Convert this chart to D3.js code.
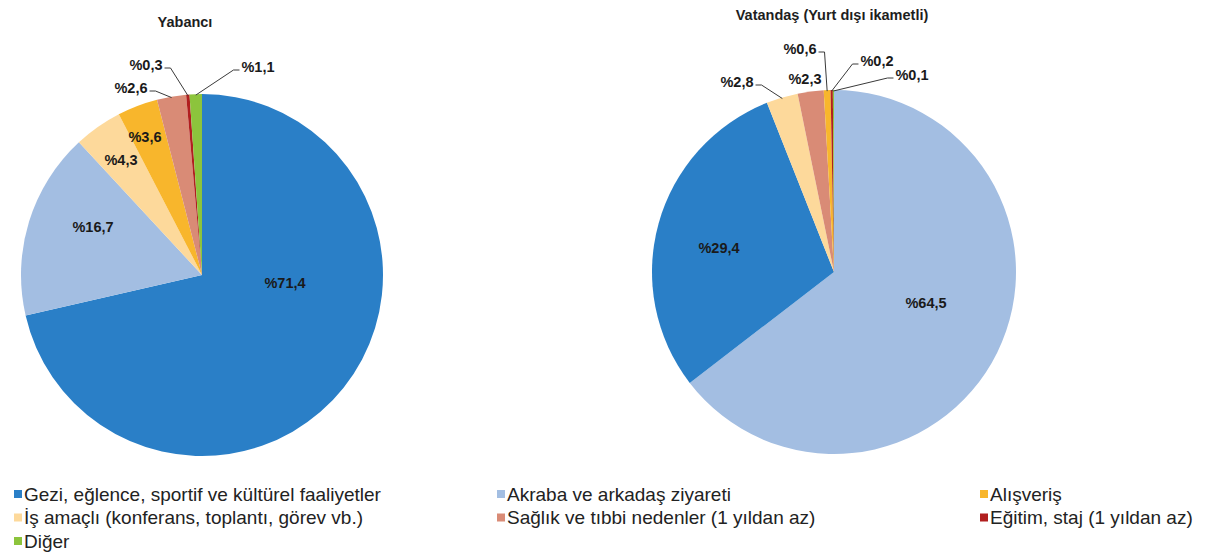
<!DOCTYPE html>
<html>
<head>
<meta charset="utf-8">
<script src="https://cdn.jsdelivr.net/npm/d3@7/dist/d3.min.js"></script>
<style>
  html, body { margin: 0; padding: 0; background: #ffffff; }
  svg { display: block; }
  text { font-family: "Liberation Sans", Arial, sans-serif; }
</style>
</head>
<body>
<svg id="chart" width="1207" height="552"></svg>
<script>
// ---- Data ----
const categories = [
  "Gezi, eğlence, sportif ve kültürel faaliyetler",
  "Akraba ve arkadaş ziyareti",
  "Alışveriş",
  "İş amaçlı (konferans, toplantı, görev vb.)",
  "Sağlık ve tıbbi nedenler (1 yıldan az)",
  "Eğitim, staj (1 yıldan az)",
  "Diğer"
];
const colors = ["#2a7fc7", "#a3bee2", "#f8b62c", "#fdd99b", "#d98b76", "#b11f1f", "#8cc43c"];
const yabanciValues  = [71.4, 16.7, 3.6, 4.3, 2.6, 0.3, 1.1];
const vatandasValues = [29.4, 64.5, 0.6, 2.8, 2.3, 0.2, 0.1];
// slice drawing order (clockwise from 12 o'clock), as category indices
const yabanciOrder  = [0, 1, 3, 2, 4, 5, 6];
const vatandasOrder = [1, 0, 3, 4, 2, 5, 6];
const titles = ["Yabancı", "Vatandaş (Yurt dışı ikametli)"];

// ---- Layout (positions kept separate from data) ----
const pies = [
  {
    title: titles[0], values: yabanciValues, order: yabanciOrder,
    cx: 202, cy: 275, r: 181, titleX: 185, titleY: 22,
    labels: { // offset from center, leader flag
      0: { dx: 83,   dy: 8,    leader: false },
      1: { dx: -109, dy: -48,  leader: false },
      3: { dx: -81,  dy: -115, leader: false },
      2: { dx: -57,  dy: -138, leader: false },
      4: { dx: -71,  dy: -187, leader: true },
      5: { dx: -56,  dy: -210, leader: true },
      6: { dx: 56,   dy: -208, leader: true }
    }
  },
  {
    title: titles[1], values: vatandasValues, order: vatandasOrder,
    cx: 834, cy: 272, r: 182, titleX: 832, titleY: 15,
    labels: {
      1: { dx: 92,  dy: 31,   leader: false },
      0: { dx: -115, dy: -24, leader: false },
      3: { dx: -97, dy: -190, leader: true },
      4: { dx: -29, dy: -193, leader: false },
      2: { dx: -34, dy: -223, leader: true },
      5: { dx: 43,  dy: -211, leader: true },
      6: { dx: 78,  dy: -197, leader: true }
    }
  }
];

const svg = d3.select("#chart");
const fmt = v => "%" + d3.format(".1f")(v).replace(".", ",");

pies.forEach(p => {
  const data = p.order.map(i => ({ idx: i, value: p.values[i] }));
  const pie = d3.pie().sort(null).value(d => d.value);
  const arcs = pie(data);
  const arc = d3.arc().innerRadius(0).outerRadius(p.r);

  svg.append("text")
    .attr("x", p.titleX).attr("y", p.titleY)
    .attr("text-anchor", "middle").attr("dy", "0.35em")
    .attr("font-size", "14.5px").attr("font-weight", "bold")
    .attr("fill", "#1e1e1e")
    .text(p.title);

  const g = svg.append("g").attr("transform", `translate(${p.cx},${p.cy})`);
  g.selectAll("path.slice").data(arcs).enter().append("path")
    .attr("class", "slice")
    .attr("d", arc)
    .attr("fill", d => colors[d.data.idx]);

  arcs.forEach(a => {
    const L = p.labels[a.data.idx];
    const t = g.append("text")
      .attr("x", L.dx).attr("y", L.dy)
      .attr("text-anchor", "middle").attr("dy", "0.35em")
      .attr("font-size", "14.5px").attr("font-weight", "bold")
      .attr("fill", "#1a1a1a")
      .text(fmt(a.data.value));
    if (L.leader) {
      const bb = t.node().getBBox();
      const mid = (a.startAngle + a.endAngle) / 2;
      const px = Math.sin(mid) * (p.r - 1), py = -Math.cos(mid) * (p.r - 1);
      const leftSide = L.dx < px;
      const sx = leftSide ? bb.x + bb.width + 2 : bb.x - 2;
      const sy = L.dy + 3;
      const hx = leftSide ? sx + 6 : sx - 6;
      g.append("path")
        .attr("d", d3.line()([[sx, sy], [hx, sy], [px, py]]))
        .attr("fill", "none").attr("stroke", "#3a3a3a").attr("stroke-width", 1);
    }
  });
});

// ---- Legend ----
const legendCols = [14, 497, 980];
const legendRows = [494, 517.5, 541];
const legend = svg.append("g");
categories.forEach((c, i) => {
  const x = legendCols[i % 3], y = legendRows[Math.floor(i / 3)];
  legend.append("rect").attr("x", x).attr("y", y - 4).attr("width", 8).attr("height", 8)
    .attr("fill", colors[i]);
  legend.append("text").attr("x", x + 10).attr("y", y).attr("dy", "0.35em")
    .attr("font-size", "19px").attr("fill", "#222")
    .text(c);
});
</script>
</body>
</html>
